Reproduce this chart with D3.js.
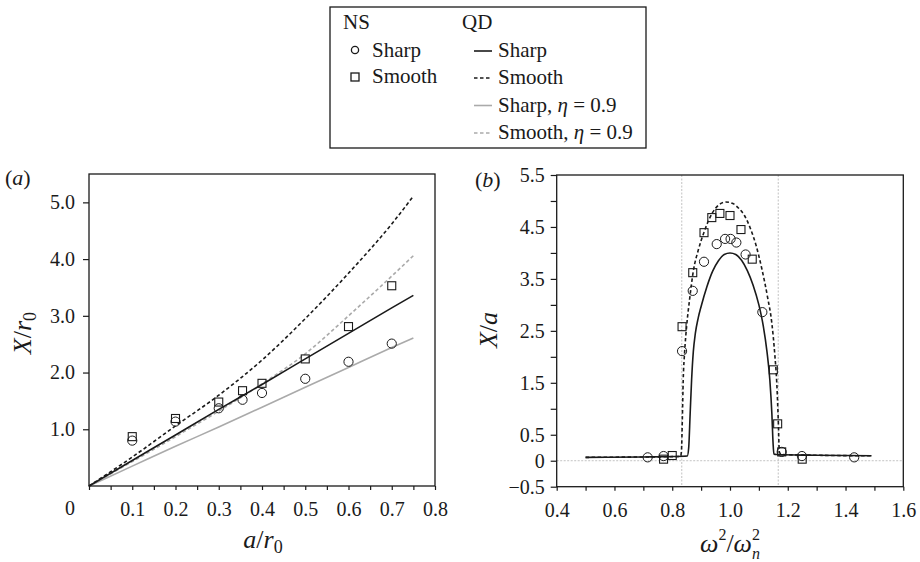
<!DOCTYPE html>
<html><head><meta charset="utf-8">
<script src="https://cdn.jsdelivr.net/npm/d3@7"></script>
<style>body{margin:0;background:#fff}</style></head>
<body><svg id="c" width="920" height="562"></svg>
<script>
// ---------- Panel (a) data ----------
const aNSx = [0.1, 0.2, 0.3, 0.355, 0.4, 0.5, 0.6, 0.7];
const aSharpNS = [0.80, 1.135, 1.37, 1.52, 1.64, 1.89, 2.19, 2.51];
const aSmoothNS = [0.87, 1.19, 1.48, 1.68, 1.81, 2.24, 2.81, 3.53];
const aQDx = [0, 0.1, 0.2, 0.3, 0.4, 0.5, 0.6, 0.7, 0.75];
const aQDSharp = [0, 0.45, 0.90, 1.35, 1.79, 2.24, 2.69, 3.14, 3.36];
const aQDSmooth = [0, 0.51, 1.06, 1.60, 2.22, 2.95, 3.75, 4.62, 5.11];
const aQDSharp09 = [0, 0.35, 0.70, 1.04, 1.39, 1.74, 2.09, 2.44, 2.61];
const aQDSmooth09 = [0, 0.43, 0.87, 1.32, 1.80, 2.33, 3.00, 3.70, 4.06];
const aXTicks = [0.1, 0.2, 0.3, 0.4, 0.5, 0.6, 0.7, 0.8];
const aYTicks = [1, 2, 3, 4, 5];

// ---------- Panel (b) data ----------
const bSharpNSx = [0.715, 0.77, 0.834, 0.871, 0.91, 0.954, 0.983, 1.002, 1.022, 1.054, 1.112, 1.179, 1.249, 1.43];
const bSharpNSy = [0.065, 0.09, 2.11, 3.27, 3.83, 4.17, 4.27, 4.27, 4.20, 3.97, 2.86, 0.17, 0.09, 0.065];
const bSmoothNSx = [0.77, 0.80, 0.834, 0.871, 0.91, 0.937, 0.965, 1.0, 1.038, 1.077, 1.15, 1.165, 1.179, 1.25];
const bSmoothNSy = [0.03, 0.10, 2.58, 3.62, 4.39, 4.68, 4.76, 4.72, 4.45, 3.88, 1.75, 0.71, 0.17, 0.03];
const bQDSharpx = [0.50, 0.70, 0.80, 0.852, 0.857, 0.862, 0.867, 0.873, 0.88, 0.89, 0.90, 0.92, 0.94, 0.96, 0.98, 1.00, 1.02, 1.04, 1.06, 1.08, 1.10, 1.115, 1.128, 1.138, 1.145, 1.149, 1.152, 1.16, 1.30, 1.49];
const bQDSharpy = [0.065, 0.072, 0.08, 0.09, 0.25, 0.9, 1.55, 2.1, 2.45, 2.75, 2.97, 3.35, 3.65, 3.85, 3.97, 4.00, 3.97, 3.86, 3.66, 3.38, 3.0, 2.6, 2.1, 1.55, 0.9, 0.35, 0.13, 0.12, 0.105, 0.095];
const bQDSmoothx = [0.50, 0.70, 0.80, 0.829, 0.832, 0.835, 0.838, 0.843, 0.85, 0.86, 0.873, 0.89, 0.91, 0.94, 0.96, 0.985, 1.01, 1.03, 1.05, 1.07, 1.09, 1.11, 1.13, 1.145, 1.155, 1.162, 1.167, 1.171, 1.18, 1.30, 1.49];
const bQDSmoothy = [0.065, 0.072, 0.078, 0.085, 0.2, 0.8, 1.55, 2.1, 2.6, 3.1, 3.65, 4.05, 4.4, 4.78, 4.92, 4.98, 4.95, 4.86, 4.72, 4.48, 4.15, 3.70, 3.15, 2.64, 2.05, 1.49, 0.8, 0.16, 0.12, 0.105, 0.095];
const bXTicks = [0.4, 0.5, 0.6, 0.7, 0.8, 0.9, 1.0, 1.1, 1.2, 1.3, 1.4, 1.5, 1.6];
const bXLabels = [0.4, 0.6, 0.8, 1.0, 1.2, 1.4, 1.6];
const bYTicks = [-0.5, 0, 0.5, 1, 1.5, 2, 2.5, 3, 3.5, 4, 4.5, 5, 5.5];
const bYLabels = [-0.5, 0, 0.5, 1.5, 2.5, 3.5, 4.5, 5.5];
const bGridX = [0.833, 1.167];

const FONT = "'Liberation Serif'";
const svg = d3.select("#c");
const INK = "#1a1a1a", GRAY = "#aaaaaa";

function txt(parent) {
  return parent.append("text").style("font-family", FONT).attr("fill", INK);
}
function styleAxis(g) {
  g.attr("font-family", null);
  g.select(".domain").remove();
  g.selectAll(".tick line").attr("stroke", INK).attr("stroke-width", 1.2);
  g.selectAll(".tick text").attr("fill", INK).attr("font-size", 20).style("font-family", FONT);
}
function circles(g, xs, ys, sx, sy, r) {
  g.selectAll(null).data(xs).join("circle")
    .attr("cx", (d) => sx(d)).attr("cy", (d, i) => sy(ys[i])).attr("r", r)
    .attr("fill", "none").attr("stroke", INK).attr("stroke-width", 1);
}
function squares(g, xs, ys, sx, sy, s) {
  g.selectAll(null).data(xs).join("rect")
    .attr("x", (d) => sx(d) - s / 2).attr("y", (d, i) => sy(ys[i]) - s / 2)
    .attr("width", s).attr("height", s)
    .attr("fill", "none").attr("stroke", INK).attr("stroke-width", 1.1);
}
function curve(g, xs, ys, sx, sy, color, dash, w) {
  const line = d3.line().x((d) => sx(d[0])).y((d) => sy(d[1])).curve(d3.curveMonotoneX);
  g.append("path").attr("d", line(xs.map((x, i) => [x, ys[i]])))
    .attr("fill", "none").attr("stroke", color).attr("stroke-width", w)
    .attr("stroke-dasharray", dash || null);
}

// ---------- Panel (a) ----------
const xa = d3.scaleLinear().domain([0, 0.8]).range([89, 435]);
const ya = d3.scaleLinear().domain([0, 5.5]).range([486, 174]);
const ga = svg.append("g");
curve(ga, aQDx, aQDSharp09, xa, ya, GRAY, null, 1.6);
curve(ga, aQDx, aQDSmooth09, xa, ya, GRAY, "3.5,2.5", 1.6);
curve(ga, aQDx, aQDSharp, xa, ya, INK, null, 1.6);
curve(ga, aQDx, aQDSmooth, xa, ya, INK, "3.5,2.5", 1.6);
circles(ga, aNSx, aSharpNS, xa, ya, 4.6);
squares(ga, aNSx, aSmoothNS, xa, ya, 8);
ga.append("rect").attr("x", 89).attr("y", 174).attr("width", 346).attr("height", 312)
  .attr("fill", "none").attr("stroke", INK).attr("stroke-width", 1.3);
const minorA = d3.range(0, 17).map((i) => i * 0.05);
ga.append("g").attr("transform", "translate(0,486)")
  .call(d3.axisBottom(xa).tickValues(minorA).tickSize(4).tickPadding(12)
    .tickFormat((d) => (aXTicks.some((t) => Math.abs(t - d) < 1e-6) ? d3.format(".1f")(d) : "")))
  .call(styleAxis);
ga.append("g").attr("transform", "translate(89,0)")
  .call(d3.axisLeft(ya).tickValues(aYTicks).tickSize(6).tickPadding(8).tickFormat(d3.format(".1f")))
  .call(styleAxis);
txt(ga).attr("x", 70).attr("y", 515).attr("text-anchor", "middle").attr("font-size", 20).text("0");

// ---------- Panel (b) ----------
const xb = d3.scaleLinear().domain([0.4, 1.6]).range([556.7, 903.3]);
const yb = d3.scaleLinear().domain([-0.5, 5.5]).range([486.7, 175]);
const gb = svg.append("g");
gb.selectAll(null).data(bGridX).join("line")
  .attr("x1", (d) => xb(d)).attr("x2", (d) => xb(d)).attr("y1", yb(5.5)).attr("y2", yb(-0.5))
  .attr("stroke", "#bbbbbb").attr("stroke-width", 0.9).attr("stroke-dasharray", "2,1.5");
gb.append("line").attr("x1", xb(0.4)).attr("x2", xb(1.6)).attr("y1", yb(0)).attr("y2", yb(0))
  .attr("stroke", "#bbbbbb").attr("stroke-width", 0.9).attr("stroke-dasharray", "2,1.5");
curve(gb, bQDSharpx, bQDSharpy, xb, yb, INK, null, 1.6);
curve(gb, bQDSmoothx, bQDSmoothy, xb, yb, INK, "3.5,2.5", 1.6);
circles(gb, bSharpNSx, bSharpNSy, xb, yb, 4.6);
squares(gb, bSmoothNSx, bSmoothNSy, xb, yb, 8);
gb.append("rect").attr("x", 556.7).attr("y", 175).attr("width", 346.6).attr("height", 311.7)
  .attr("fill", "none").attr("stroke", INK).attr("stroke-width", 1.3);
gb.append("g").attr("transform", "translate(0,486.7)")
  .call(d3.axisBottom(xb).tickValues(bXTicks).tickSize(4).tickPadding(12)
    .tickFormat((d) => (bXLabels.some((t) => Math.abs(t - d) < 1e-6) ? d3.format(".1f")(d) : "")))
  .call(styleAxis);
gb.append("g").attr("transform", "translate(556.7,0)")
  .call(d3.axisLeft(yb).tickValues(bYTicks).tickSize(6).tickPadding(6)
    .tickFormat((d) => (bYLabels.includes(d) ? (d === 0 ? "0" : d3.format(".1f")(d).replace("-", "\u2212")) : "")))
  .call(styleAxis);

// ---------- Titles ----------
function panelLabel(x, y, letter) {
  const t = txt(svg).attr("x", x).attr("y", y).attr("font-size", 22);
  t.append("tspan").text("(");
  t.append("tspan").style("font-style", "italic").text(letter);
  t.append("tspan").text(")");
}
panelLabel(5, 185, "a");
panelLabel(475, 187, "b");

{ // a/r0
  const t = txt(svg).attr("x", 263).attr("y", 548).attr("text-anchor", "middle").attr("font-size", 26);
  t.append("tspan").style("font-style", "italic").text("a");
  t.append("tspan").text("/");
  t.append("tspan").style("font-style", "italic").text("r");
  t.append("tspan").attr("font-size", 18).attr("dy", 5).text("0");
}
{ // X/r0
  const t = txt(svg).attr("transform", "translate(31,333) rotate(-90)").attr("text-anchor", "middle").attr("font-size", 26);
  t.append("tspan").style("font-style", "italic").text("X");
  t.append("tspan").text("/");
  t.append("tspan").style("font-style", "italic").text("r");
  t.append("tspan").attr("font-size", 18).attr("dy", 5).text("0");
}
{ // X/a
  const t = txt(svg).attr("transform", "translate(497,330) rotate(-90)").attr("text-anchor", "middle").attr("font-size", 26);
  t.append("tspan").style("font-style", "italic").text("X");
  t.append("tspan").text("/");
  t.append("tspan").style("font-style", "italic").text("a");
}
{ // ω²/ωn²
  const t = txt(svg).attr("x", 730).attr("y", 552).attr("text-anchor", "middle").attr("font-size", 26);
  t.append("tspan").style("font-style", "italic").text("\u03c9");
  t.append("tspan").attr("font-size", 16).attr("dy", -12).text("2");
  t.append("tspan").attr("dy", 12).text("/");
  t.append("tspan").style("font-style", "italic").text("\u03c9");
  t.append("tspan").attr("font-size", 16).attr("dy", -12).text("2");
  t.append("tspan").attr("font-size", 16).style("font-style", "italic").attr("dy", 19).attr("dx", -8).text("n");
}

// ---------- Legend ----------
const lg = svg.append("g");
lg.append("rect").attr("x", 330).attr("y", 7).attr("width", 316).attr("height", 141)
  .attr("fill", "#fff").attr("stroke", INK).attr("stroke-width", 1.3);
const LFS = 21;
txt(lg).attr("x", 343).attr("y", 29).attr("font-size", LFS).text("NS");
txt(lg).attr("x", 462).attr("y", 29).attr("font-size", LFS).text("QD");
lg.append("circle").attr("cx", 355).attr("cy", 50).attr("r", 3.6).attr("fill", "none").attr("stroke", INK).attr("stroke-width", 1.3);
txt(lg).attr("x", 372).attr("y", 57).attr("font-size", LFS).text("Sharp");
lg.append("rect").attr("x", 351).attr("y", 73).attr("width", 8).attr("height", 8).attr("fill", "none").attr("stroke", INK).attr("stroke-width", 1.3);
txt(lg).attr("x", 372).attr("y", 83).attr("font-size", LFS).text("Smooth");
const legRows = [
  { y: 57, color: INK, dash: null, label: "Sharp", eta: false },
  { y: 84, color: INK, dash: "3.5,2.5", label: "Smooth", eta: false },
  { y: 111.5, color: GRAY, dash: null, label: "Sharp, ", eta: true },
  { y: 139, color: GRAY, dash: "3.5,2.5", label: "Smooth, ", eta: true },
];
legRows.forEach((r) => {
  lg.append("line").attr("x1", 474).attr("x2", 492).attr("y1", r.y - 6).attr("y2", r.y - 6)
    .attr("stroke", r.color).attr("stroke-width", 1.6).attr("stroke-dasharray", r.dash);
  const t = txt(lg).attr("x", 498).attr("y", r.y).attr("font-size", LFS);
  t.append("tspan").text(r.label);
  if (r.eta) {
    t.append("tspan").style("font-style", "italic").text("\u03b7");
    t.append("tspan").text(" = 0.9");
  }
});
</script></body></html>
